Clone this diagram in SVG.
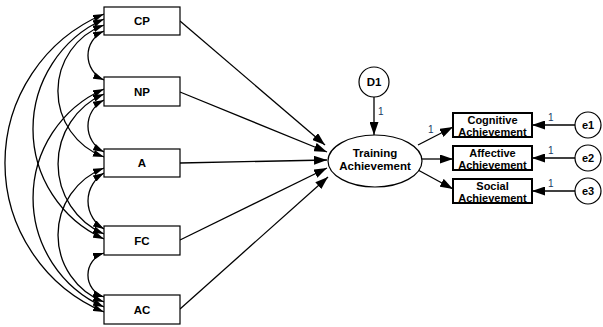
<svg xmlns="http://www.w3.org/2000/svg" width="603" height="327" viewBox="0 0 603 327">
<style>
.box{fill:#fff;stroke:#000;stroke-width:1.2}
.box2{fill:#fff;stroke:#000;stroke-width:2}
.lbl{font-family:"Liberation Sans",Arial,sans-serif;font-weight:bold;font-size:11.5px;text-anchor:middle;fill:#000}
.lbl2{font-family:"Liberation Sans",Arial,sans-serif;font-weight:bold;font-size:11px;text-anchor:middle;fill:#000}
.num{font-family:"Liberation Sans",Arial,sans-serif;font-size:10px;fill:#203864}
.arc{fill:none;stroke:#000;stroke-width:1.3;marker-start:url(#ah);marker-end:url(#ah)}
.arr{fill:none;stroke:#000;stroke-width:1.3;marker-end:url(#ab)}
</style>
<defs>
<marker id="ah" viewBox="0 0 11 7" refX="11" refY="3.5" markerWidth="11" markerHeight="7" markerUnits="userSpaceOnUse" orient="auto-start-reverse"><path d="M0,0 L11,3.5 L0,7 z" fill="#000"/></marker>
<marker id="ab" viewBox="0 0 13 9" refX="13" refY="4.5" markerWidth="13" markerHeight="9" markerUnits="userSpaceOnUse" orient="auto"><path d="M0,0 L13,4.5 L0,9 z" fill="#000"/></marker>
</defs>
<g id="connectors">
<path class="arc" d="M104,31 A26.75,26.75 0 0 0 104,80"/>
<path class="arc" d="M104,100 A29.1,29.1 0 0 0 104,152"/>
<path class="arc" d="M104,173 A32.5,32.5 0 0 0 104,229"/>
<path class="arc" d="M104,253 A23.1,23.1 0 0 0 104,297"/>
<path class="arc" d="M104,25 A70.3,70.3 0 0 0 104,157"/>
<path class="arc" d="M104,94 A76.3,76.3 0 0 0 104,234"/>
<path class="arc" d="M104,168 A71.8,71.8 0 0 0 104,302"/>
<path class="arc" d="M104,19 A120.7,120.7 0 0 0 104,239"/>
<path class="arc" d="M104,89 A119.2,119.2 0 0 0 104,307"/>
<path class="arc" d="M104,14 A161.6,161.6 0 0 0 104,312"/>
<path class="arr" d="M180,21 L325,145"/>
<path class="arr" d="M180,92 L327,152"/>
<path class="arr" d="M180,163 L327,160"/>
<path class="arr" d="M180,240 L327,168"/>
<path class="arr" d="M180,309 L328,177"/>
<path class="arr" d="M374,97 L374,135"/>
<path class="arr" d="M418,145 L453,127"/>
<path class="arr" d="M422,159 L453,159"/>
<path class="arr" d="M418,170 L453,189"/>
<path class="arr" d="M575,125 L532,125"/>
<path class="arr" d="M575,158 L532,158"/>
<path class="arr" d="M575,191 L532,191"/>
<text class="num" x="378" y="115">1</text>
<text class="num" x="428" y="133">1</text>
<text class="num" x="548" y="121">1</text>
<text class="num" x="548" y="154">1</text>
<text class="num" x="548" y="187">1</text>
</g>
<g id="CP"><rect class="box" x="104" y="7" width="76" height="28"/><text class="lbl" x="142" y="25">CP</text></g>
<g id="NP"><rect class="box" x="104" y="77" width="76" height="29"/><text class="lbl" x="142" y="96">NP</text></g>
<g id="A"><rect class="box" x="104" y="149" width="76" height="28"/><text class="lbl" x="142" y="167">A</text></g>
<g id="FC"><rect class="box" x="104" y="226" width="76" height="29"/><text class="lbl" x="142" y="245">FC</text></g>
<g id="AC"><rect class="box" x="104" y="295" width="76" height="29"/><text class="lbl" x="142" y="314">AC</text></g>
<g id="D1"><circle class="box" cx="374" cy="82" r="15" stroke-width="1.5"/><text class="lbl" x="374" y="86">D1</text></g>
<g id="TA"><ellipse class="box" cx="375" cy="161" rx="47" ry="26" stroke-width="1.5"/><text class="lbl" x="375" y="157">Training</text><text class="lbl" x="375" y="170">Achievement</text></g>
<g id="CogA"><rect class="box2" x="453" y="113" width="79" height="24"/><text class="lbl2" x="492.5" y="124">Cognitive</text><text class="lbl2" x="492.5" y="135.5">Achievement</text></g>
<g id="AffA"><rect class="box2" x="453" y="146" width="79" height="24"/><text class="lbl2" x="492.5" y="157">Affective</text><text class="lbl2" x="492.5" y="168.5">Achievement</text></g>
<g id="SocA"><rect class="box2" x="453" y="179" width="79" height="24"/><text class="lbl2" x="492.5" y="190">Social</text><text class="lbl2" x="492.5" y="201.5">Achievement</text></g>
<g id="e1"><circle class="box" cx="588" cy="125" r="13" stroke-width="1.5"/><text class="lbl2" x="588" y="129">e1</text></g>
<g id="e2"><circle class="box" cx="588" cy="158" r="13" stroke-width="1.5"/><text class="lbl2" x="588" y="162">e2</text></g>
<g id="e3"><circle class="box" cx="588" cy="191" r="13" stroke-width="1.5"/><text class="lbl2" x="588" y="195">e3</text></g>
</svg>
